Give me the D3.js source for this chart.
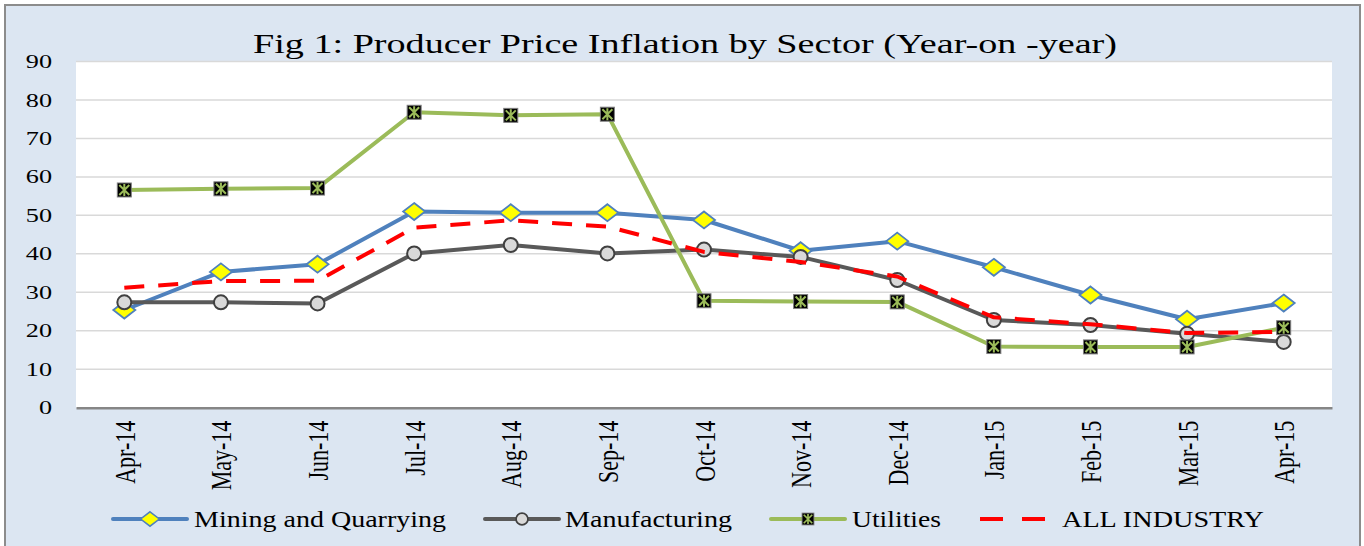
<!DOCTYPE html>
<html>
<head>
<meta charset="utf-8">
<script src="https://cdn.jsdelivr.net/npm/d3@7"></script>
<style>
  body { margin: 0; background: #fff; }
  text { font-family: "Liberation Serif", "Times New Roman", serif; fill: #000; }
</style>
</head>
<body>
<svg width="1364" height="546"></svg>
<script>
var months = ['Apr-14', 'May-14', 'Jun-14', 'Jul-14', 'Aug-14', 'Sep-14', 'Oct-14',
  'Nov-14', 'Dec-14', 'Jan-15', 'Feb-15', 'Mar-15', 'Apr-15'];
var mining = [25.4, 35.3, 37.3, 51.0, 50.7, 50.7, 48.8, 40.8, 43.3, 36.5, 29.3, 23.0, 27.2];
var manufacturing = [27.4, 27.4, 27.1, 40.1, 42.3, 40.1, 41.1, 39.2, 33.2, 22.8, 21.5, 19.2, 17.1];
var utilities = [56.6, 56.9, 57.1, 76.8, 76.0, 76.3, 27.8, 27.6, 27.5, 15.9, 15.8, 15.8, 20.8];
var allIndustry = [31.2, 32.9, 33.0, 46.8, 48.7, 47.1, 40.5, 37.9, 34.1, 23.5, 21.7, 19.4, 19.7];
var yTicks = [0, 10, 20, 30, 40, 50, 60, 70, 80, 90];

var series = [
  { name: 'Mining and Quarrying', values: mining, color: '#4f81bd', marker: 'diamond' },
  { name: 'Manufacturing', values: manufacturing, color: '#595959', marker: 'circle' },
  { name: 'Utilities', values: utilities, color: '#9bbb59', marker: 'square' },
  { name: 'ALL INDUSTRY', values: allIndustry, color: '#ff0000', marker: 'none', dash: '20,14' }
];

var svg = d3.select('svg');

// the original is a bit stretched sideways, so widen text to match
function widen(sel, factor) {
  sel.each(function() {
    var w = this.getComputedTextLength();
    d3.select(this).attr('textLength', w * factor).attr('lengthAdjust', 'spacingAndGlyphs');
  });
}

// chart frame
svg.append('rect').attr('x', 5).attr('y', 5).attr('width', 1355).attr('height', 545)
  .attr('fill', '#dce6f2').attr('stroke', '#8c8c8c').attr('stroke-width', 2);

var plotLeft = 76, plotRight = 1332, plotTop = 61.5, plotBottom = 407.7;

svg.append('rect').attr('x', plotLeft).attr('y', plotTop)
  .attr('width', plotRight - plotLeft).attr('height', plotBottom - plotTop).attr('fill', '#fff');

var x = d3.scalePoint().domain(months).range([plotLeft, plotRight]).padding(0.5);
var y = d3.scaleLinear().domain([0, 90]).range([plotBottom, plotTop]);

svg.append('text').attr('x', 685).attr('y', 53).attr('text-anchor', 'middle')
  .style('font-size', '28px')
  .attr('textLength', 864).attr('lengthAdjust', 'spacingAndGlyphs')
  .text('Fig 1: Producer Price Inflation by Sector (Year-on -year)');

// gridlines
svg.append('g').selectAll('line').data(yTicks.slice(1)).enter().append('line')
  .attr('x1', plotLeft).attr('x2', plotRight)
  .attr('y1', function(d) { return y(d); }).attr('y2', function(d) { return y(d); })
  .attr('stroke', '#d9d9d9').attr('stroke-width', 1.5);

// y axis labels
var yAxis = svg.append('g').attr('transform', 'translate(' + plotLeft + ',0)')
  .call(d3.axisLeft(y).tickValues(yTicks).tickSize(0).tickPadding(24));
yAxis.select('.domain').remove();
yAxis.selectAll('text').style('font-size', '19px').style('font-family', '"Liberation Serif", serif')
  .call(widen, 1.38);

// x axis, rotated labels also look fatter in the original
var xAxis = svg.append('g').attr('transform', 'translate(0,' + plotBottom + ')')
  .call(d3.axisBottom(x).tickSize(0));
xAxis.select('.domain').attr('stroke', '#868686').attr('stroke-width', 2.5);
xAxis.selectAll('text')
  .style('font-size', '22px').style('font-family', '"Liberation Serif", serif')
  .attr('transform', 'rotate(-90) scale(1,1.3)').attr('text-anchor', 'end')
  .attr('x', -13).attr('y', 0).attr('dy', '0.35em');

var line = d3.line()
  .x(function(d, i) { return x(months[i]); })
  .y(function(d) { return y(d); });

function drawMarker(g, type, color) {
  if (type === 'diamond') {
    g.append('path').attr('d', 'M0,-8.5L11,0L0,8.5L-11,0Z')
      .attr('fill', '#ffff00').attr('stroke', color).attr('stroke-width', 1.8);
  } else if (type === 'circle') {
    g.append('circle').attr('r', 7).attr('fill', '#d9d9d9')
      .attr('stroke', '#404040').attr('stroke-width', 2);
  } else if (type === 'square') {
    g.append('rect').attr('x', -7).attr('y', -7).attr('width', 14).attr('height', 14)
      .attr('fill', '#000').attr('stroke', '#7f7f7f').attr('stroke-width', 1);
    g.append('path').attr('d', 'M-5,-5L5,5M-5,5L5,-5M0,-6V6')
      .attr('stroke', '#9bbb59').attr('stroke-width', 2);
  }
}

series.forEach(function(s) {
  svg.append('path').datum(s.values)
    .attr('fill', 'none').attr('stroke', s.color).attr('stroke-width', 4)
    .attr('stroke-linejoin', 'round')
    .attr('stroke-dasharray', s.dash || null)
    .attr('d', line);
  if (s.marker !== 'none') {
    s.values.forEach(function(v, i) {
      var g = svg.append('g').attr('transform', 'translate(' + x(months[i]) + ',' + y(v) + ')');
      drawMarker(g, s.marker, s.color);
    });
  }
});

// legend
var legendX = [113, 485, 771, 980];
var legendTextX = [81, 80, 81, 82];
var legendTextW = [252, 167, 89, 202];
var legend = svg.append('g');
series.forEach(function(s, i) {
  var g = legend.append('g').attr('transform', 'translate(' + legendX[i] + ',519)');
  if (s.dash) {
    g.append('line').attr('x1', 0).attr('x2', 65).attr('stroke', s.color)
      .attr('stroke-width', 4).attr('stroke-dasharray', '23,19');
  } else {
    g.append('line').attr('x1', 0).attr('x2', 74).attr('stroke', s.color)
      .attr('stroke-width', 4).attr('stroke-linecap', 'round');
    var m = g.append('g').attr('transform', 'translate(37,0) scale(0.85)');
    drawMarker(m, s.marker, s.color);
  }
  g.append('text').attr('x', legendTextX[i]).attr('dy', '0.35em').style('font-size', '23px')
    .attr('textLength', legendTextW[i]).attr('lengthAdjust', 'spacingAndGlyphs')
    .text(s.name);
});
</script>
</body>
</html>
